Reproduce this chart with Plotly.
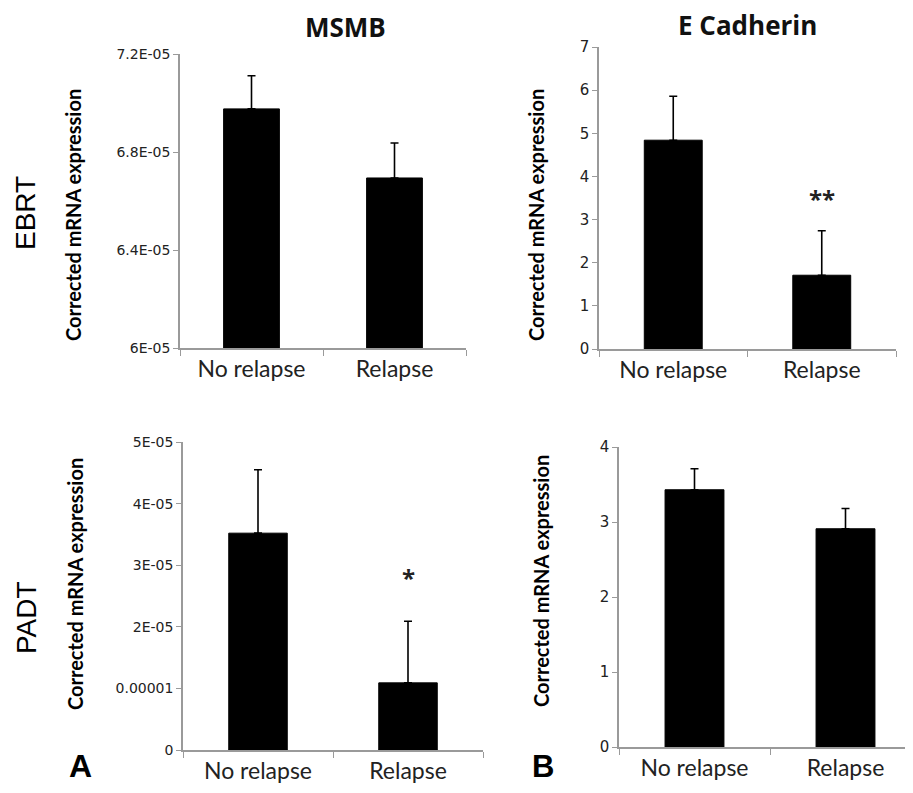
import plotly.graph_objects as go

categories = ["No relapse", "Relapse"]

# MSMB, EBRT
msmb_ebrt = [6.976e-05, 6.694e-05]
msmb_ebrt_err = [0.135e-05, 0.143e-05]
# E Cadherin, EBRT
ecad_ebrt = [4.84, 1.71]
ecad_ebrt_err = [1.02, 1.03]
# MSMB, PADT
msmb_padt = [3.52e-05, 1.09e-05]
msmb_padt_err = [1.03e-05, 1.00e-05]
# E Cadherin, PADT
ecad_padt = [3.43, 2.91]
ecad_padt_err = [0.28, 0.27]

tick_msmb_ebrt_vals = [6.0e-05, 6.4e-05, 6.8e-05, 7.2e-05]
tick_msmb_ebrt_text = ["6E-05", "6.4E-05", "6.8E-05", "7.2E-05"]
tick_msmb_padt_vals = [0, 1e-05, 2e-05, 3e-05, 4e-05, 5e-05]
tick_msmb_padt_text = ["0", "0.00001", "2E-05", "3E-05", "4E-05", "5E-05"]
tick_ecad_ebrt_vals = [0, 1, 2, 3, 4, 5, 6, 7]
tick_ecad_padt_vals = [0, 1, 2, 3, 4]

Y_TITLE = "Corrected mRNA expression"

# page body has an 8px margin; lay out in window pixels minus that offset
OFF = 8
W, H = 913 - OFF, 793 - OFF
def px(x0, x1):
    return [(x0 - OFF) / W, min(1.0, (x1 - OFF) / W)]
def py(ybot, ytop):
    return [1 - (ybot - OFF) / H, 1 - (ytop - OFF) / H]
def ax(x):
    return (x - OFF) / W
def ay(y):
    return 1 - (y - OFF) / H

AX_COL = "#9a9a9a"
FONT = "Lato"

fig = go.Figure()

panels = [
    ("x", "y", msmb_ebrt, msmb_ebrt_err),
    ("x2", "y2", ecad_ebrt, ecad_ebrt_err),
    ("x3", "y3", msmb_padt, msmb_padt_err),
    ("x4", "y4", ecad_padt, ecad_padt_err),
]
for xa, ya, vals, errs in panels:
    fig.add_trace(go.Bar(
        x=categories, y=vals, xaxis=xa, yaxis=ya, width=0.39,
        marker=dict(color="black", line=dict(color="black", width=1)),
        error_y=dict(type="data", array=errs, arrayminus=[0, 0], symmetric=False,
                     color="black", thickness=1.6, width=4),
        showlegend=False,
    ))

def xaxis(domain, anchor, rng):
    return dict(domain=domain, anchor=anchor, type="category", range=rng, automargin=False,
                showline=True, linecolor=AX_COL, linewidth=1.5,
                ticks="outside", tickson="boundaries", ticklen=6, tickcolor=AX_COL,
                tickfont=dict(family=FONT, size=23, color="#222"),
                showgrid=False, zeroline=False, fixedrange=True)

def yaxis(domain, anchor, rng, tv, tt, tsize):
    return dict(domain=domain, anchor=anchor, range=rng, automargin=False,
                tickvals=tv, ticktext=tt,
                showline=True, linecolor=AX_COL, linewidth=1.5,
                ticks="outside", ticklen=5, tickcolor=AX_COL,
                tickfont=dict(family="DejaVu Sans", size=tsize, color="#222"),
                showgrid=False, zeroline=False)

x4_full = 921 - 619
fig.update_layout(
    template="none",
    width=W, height=H,
    margin=dict(l=0, r=0, t=0, b=0, pad=0),
    paper_bgcolor="white", plot_bgcolor="white",
    xaxis=xaxis(px(180, 466), "y", [-0.5, 1.5]),
    yaxis=yaxis(py(348, 54), "x", [6.0e-05, 7.2e-05], tick_msmb_ebrt_vals, tick_msmb_ebrt_text, 14),
    xaxis2=xaxis(px(599, 896), "y2", [-0.5, 1.5]),
    yaxis2=yaxis(py(349, 47), "x2", [0, 7], tick_ecad_ebrt_vals, [str(v) for v in tick_ecad_ebrt_vals], 15),
    xaxis3=xaxis(px(183, 483), "y3", [-0.5, 1.5]),
    yaxis3=yaxis(py(750, 442), "x3", [0, 5e-05], tick_msmb_padt_vals, tick_msmb_padt_text, 14),
    xaxis4=xaxis(px(619, 913), "y4", [-0.5, -0.5 + 2 * (913 - 619) / x4_full]),
    yaxis4=yaxis(py(747, 447), "x4", [0, 4], tick_ecad_padt_vals, [str(v) for v in tick_ecad_padt_vals], 15),
)

title_font = dict(family=FONT, size=20, color="black", weight="bold")
annots = [
    dict(text="<b>MSMB</b>", x=ax(345), y=ay(27), font=dict(family="Open Sans", size=26, color="#111")),
    dict(text="<b>E Cadherin</b>", x=ax(747), y=ay(25), font=dict(family="Open Sans", size=26, color="#111")),
    dict(text="EBRT", x=ax(26), y=ay(213), textangle=-90, font=dict(family="Liberation Sans", size=28, color="black")),
    dict(text="PADT", x=ax(26), y=ay(618), textangle=-90, font=dict(family="Liberation Sans", size=28, color="black")),
    dict(text="<b>A</b>", x=ax(80), y=ay(766), font=dict(family="Liberation Sans", size=32, color="black")),
    dict(text="<b>B</b>", x=ax(543), y=ay(766), font=dict(family="Liberation Sans", size=31, color="black")),
    dict(text=Y_TITLE, x=ax(73), y=ay(215), textangle=-90, font=title_font),
    dict(text=Y_TITLE, x=ax(536), y=ay(215), textangle=-90, font=title_font),
    dict(text=Y_TITLE, x=ax(75), y=ay(584), textangle=-90, font=title_font),
    dict(text=Y_TITLE, x=ax(541), y=ay(581), textangle=-90, font=title_font),
]
for a in annots:
    a.update(xref="paper", yref="paper", xanchor="center", yanchor="middle", showarrow=False)
    fig.add_annotation(**a)

fig.add_annotation(text="<b>**</b>", x="Relapse", y=3.5, xref="x2", yref="y2",
                   showarrow=False, font=dict(family="Open Sans", size=24, color="#222"))
fig.add_annotation(text="<b>*</b>", x="Relapse", y=2.8e-05, xref="x3", yref="y3",
                   showarrow=False, font=dict(family="Open Sans", size=24, color="#222"))

fig.write_html("out.html")
